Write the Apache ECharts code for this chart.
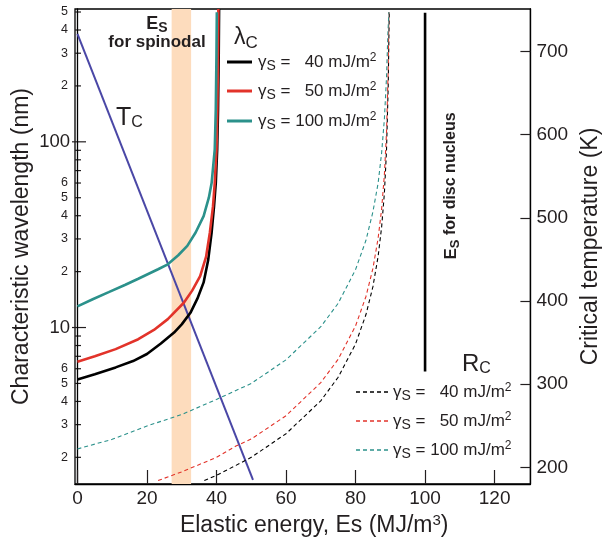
<!DOCTYPE html>
<html><head><meta charset="utf-8">
<script src="https://cdn.jsdelivr.net/npm/echarts@6/dist/echarts.min.js"></script>
<style>html,body{margin:0;padding:0;background:#fff}#c{width:610px;height:542px}</style>
</head><body><div id="c"></div>
<script>
// ---- data ----
const xTicks = [0, 20, 40, 60, 80, 100, 120];
const tempTicks = [200, 300, 400, 500, 600, 700];
const wlMajorTicks = [10, 100];
const wlMinorTicks = [2, 3, 4, 5, 6, 7, 8, 9, 20, 30, 40, 50, 60, 70, 80, 90, 200, 300, 400, 500];
const wlLabels = [2, 3, 4, 5, 6, 10, 20, 30, 40, 50, 60, 100, 200, 300, 400, 500];

const lambda40 = [[0,5.25],[5,5.6],[11,6.1],[16,6.6],[20,7.2],[24,8.2],[27.8,9.4],[30,10.4],[32.5,12.0],[34.5,14.3],[36.3,17.5],[37.6,23],[38.6,32.5],[39.3,45],[39.8,60],[40.2,91],[40.45,150],[40.65,300],[40.75,519]];
const lambda50 = [[0,6.55],[5,7.0],[11,7.65],[17.5,8.65],[22,9.7],[26,11.1],[30.6,13.6],[33,15.8],[35.3,18.9],[37,24],[38.1,32.5],[39,45],[39.5,60],[40,91],[40.25,150],[40.45,300],[40.55,519]];
const lambda100 = [[0,13.0],[4.4,14.2],[9,15.5],[13.8,17.0],[17.5,18.3],[23.2,20.6],[26,21.9],[29,24.5],[31.6,27.5],[34,32.5],[36.3,39.8],[37.8,50],[38.6,60],[39.5,91],[39.8,150],[40,300],[40.1,498]];

const rc40 = [[36.5,1.5],[40,1.6],[45.6,1.81],[50,2.0],[60,2.68],[70,4.03],[75,5.4],[80,8.15],[83,11.75],[85,16.6],[86.5,24.2],[87.5,34.7],[88.3,53],[88.9,89],[89.4,200],[89.7,500]];
const rc50 = [[23.2,1.5],[30,1.67],[40,2.0],[45.6,2.3],[50,2.51],[60,3.35],[70,5.05],[75,6.75],[80,10.2],[83,14.7],[85,20.8],[86.5,30.3],[87.5,43.4],[88.3,66.6],[88.9,111],[89.4,250],[89.6,500]];
const rc100 = [[0,2.22],[10,2.5],[20,2.95],[30,3.4],[40,4.1],[50,5.0],[60,6.7],[70,10.1],[75,13.5],[80,20.5],[83,29.5],[85,42],[86.5,60],[87.5,87],[88.3,133],[88.9,220],[89.3,380],[89.6,500]];

const tcLine = [[0,721],[50.5,185]];
const spinodalBand = [27.1, 32.7];
const discLine = [[100,5.8],[100,496]];

// ---- styles ----
const FONT = '"Liberation Sans", Arial, Helvetica, sans-serif';
const INK = '#231f20';
const BLACK = '#000000', RED = '#e2332a', TEAL = '#2b918b', BLUE = '#4a47a6', BAND = '#fddcbd';

const chart = echarts.init(document.getElementById('c'), null, {renderer: 'canvas'});

function solid(data, color) {
  return {type: 'line', data, yAxisIndex: 0, symbol: 'none', z: 4,
    lineStyle: {color, width: 2.6}, silent: true};
}
function dashed(data, color) {
  return {type: 'line', data, yAxisIndex: 0, symbol: 'none', z: 4,
    lineStyle: {color, width: 1.1, type: [4, 3]}, silent: true};
}

const option = {
  animation: false,
  backgroundColor: '#fff',
  grid: {left: 75, right: 68, top: 9, bottom: 57, show: true, borderColor: '#000', borderWidth: 1.3, backgroundColor: 'transparent'},
  xAxis: {
    type: 'value', min: -0.7, max: 130.3,
    axisLine: {show: true, lineStyle: {color: '#000', width: 1.3}},
    axisTick: {show: true, inside: true, length: 14, customValues: xTicks, lineStyle: {color: INK, width: 1.2}},
    axisLabel: {customValues: xTicks, fontSize: 19, color: INK, fontFamily: FONT, margin: 5},
    splitLine: {show: false},
    name: 'Elastic energy, Es (MJ/m{sup|3})',
    nameLocation: 'middle', nameGap: 29,
    nameTextStyle: {fontSize: 23, color: INK, fontFamily: FONT, padding: [0, 0, 0, 23],
      rich: {sup: {fontSize: 15, color: INK, fontFamily: FONT, padding: [0, 0, 10, 0]}}}
  },
  yAxis: [
    {
      type: 'log', logBase: 10, min: 1.437, max: 519,
      axisLine: {show: true, lineStyle: {color: '#000', width: 1.3}},
      axisTick: {show: false}, axisLabel: {show: false}, splitLine: {show: false}, minorTick: {show: false},
      name: 'Characteristic wavelength (nm)', nameLocation: 'middle', nameGap: 42,
      nameTextStyle: {fontSize: 23, color: INK, fontFamily: FONT}
    },
    {
      type: 'value', position: 'right', min: 180, max: 751,
      axisLine: {show: true, lineStyle: {color: '#000', width: 1.3}},
      axisTick: {show: true, inside: true, length: 10, customValues: tempTicks, lineStyle: {color: INK, width: 1.2}},
      axisLabel: {customValues: tempTicks, fontSize: 19, color: INK, fontFamily: FONT, margin: 6},
      splitLine: {show: false},
      name: 'Critical temperature (K)', nameLocation: 'middle', nameGap: 46, nameRotate: 90,
      nameTextStyle: {fontSize: 23, color: INK, fontFamily: FONT}
    }
  ],
  series: [
    {type: 'line', data: [], yAxisIndex: 0, z: 1, silent: true,
      markArea: {silent: true, itemStyle: {color: BAND, opacity: 1},
        data: [[{xAxis: spinodalBand[0]}, {xAxis: spinodalBand[1]}]]}},
    {type: 'line', data: tcLine, yAxisIndex: 1, symbol: 'none', z: 3, silent: true, lineStyle: {color: BLUE, width: 2}},
    solid(lambda40, BLACK), solid(lambda50, RED), solid(lambda100, TEAL),
    dashed(rc40, BLACK), dashed(rc50, RED), dashed(rc100, TEAL),
    {type: 'line', data: discLine, yAxisIndex: 0, symbol: 'none', z: 4, silent: true, lineStyle: {color: '#000', width: 2.6}}
  ]
};
chart.setOption(option);

// ---- log-axis ticks & labels via the axis scale ----
const g = [];
const axisX = chart.convertToPixel({xAxisIndex: 0}, -0.7);
function yPix(v) { return chart.convertToPixel({yAxisIndex: 0}, v); }
wlMajorTicks.forEach(v => {
  const y = yPix(v);
  g.push({type: 'line', silent: true, shape: {x1: axisX - 3, y1: y, x2: axisX + 11, y2: y}, style: {stroke: INK, lineWidth: 1.2}});
});
wlMinorTicks.forEach(v => {
  const y = yPix(v);
  g.push({type: 'line', silent: true, shape: {x1: axisX, y1: y, x2: axisX + 6, y2: y}, style: {stroke: INK, lineWidth: 1.2}});
});
wlLabels.forEach(v => {
  const big = (v === 10 || v === 100);
  const label = big ? String(v) : String(v).charAt(0);
  g.push({type: 'text', silent: true, x: axisX - (big ? 5 : 7), y: yPix(v),
    style: {text: label, fontSize: big ? 18.5 : 12.5, fontFamily: FONT, fill: INK, align: 'right', verticalAlign: 'middle'}});
});

// ---- annotations ----
function rt(x, y, text, rich, extra) {
  return Object.assign({type: 'text', silent: true, x, y, z: 10,
    style: {text, rich, fontFamily: FONT, fill: INK, align: 'left', verticalAlign: 'middle'}}, extra || {});
}
const sub = (fs, pad) => ({fontSize: fs, fontFamily: FONT, fill: INK, lineHeight: fs, padding: [pad, 0, 0, 0]});
const sup = (fs, pad) => ({fontSize: fs, fontFamily: FONT, fill: INK, lineHeight: fs, padding: [0, 0, pad, 0]});
const main = (fs, w) => ({fontSize: fs, fontFamily: FONT, fill: INK, lineHeight: fs + 2, fontWeight: w || 'normal'});

// E_S for spinodal
g.push({type: 'text', silent: true, x: 157, y: 24, z: 10,
  style: {text: '{a|E}{b|S}', align: 'center', verticalAlign: 'middle', fontFamily: FONT,
    rich: {a: main(18, 'bold'), b: Object.assign(sub(14, 9), {fontWeight: 'bold'})}}});
g.push({type: 'text', silent: true, x: 157, y: 42, z: 10, style: {text: 'for spinodal', fontSize: 17, fontWeight: 'bold', fontFamily: FONT, fill: INK, align: 'center', verticalAlign: 'middle'}});

// T_c
g.push(rt(116, 118, '{a|T}{b|C}', {a: main(25), b: sub(16, 10)}));
// lambda_c
g.push(rt(234, 38, '{a|λ}{b|C}', {a: main(23), b: sub(17, 10)}));
// R_c
g.push(rt(462, 364, '{a|R}{b|C}', {a: main(24), b: sub(16, 10)}));

// E_S for disc nucleus (rotated)
g.push({type: 'text', silent: true, x: 451, y: 186, z: 10, rotation: Math.PI / 2,
  style: {text: '{a|E}{b|S}{c| for disc nucleus}', align: 'center', verticalAlign: 'middle', fontFamily: FONT,
    rich: {a: main(17, 'bold'), b: Object.assign(sub(13, 8), {fontWeight: 'bold'}), c: main(16, 'bold')}}});

// legends
const legRich = {g: main(17), s: sub(14, 9), t: main(17), p: sup(12, 8)};
const topRows = [[62, BLACK, '  40'], [91, RED, '  50'], [121, TEAL, '100']];
topRows.forEach(([y, c, n]) => {
  g.push({type: 'line', silent: true, z: 10, shape: {x1: 227, y1: y, x2: 252, y2: y}, style: {stroke: c, lineWidth: 3}});
  g.push(rt(258, y, '{g|γ}{s|S}{t| = ' + n + ' mJ/m}{p|2}', legRich));
});
const botRows = [[392, BLACK, '  40'], [421, RED, '  50'], [450, TEAL, '100']];
botRows.forEach(([y, c, n]) => {
  g.push({type: 'line', silent: true, z: 10, shape: {x1: 356, y1: y, x2: 388, y2: y}, style: {stroke: c, lineWidth: 1.3, lineDash: [4, 3]}});
  g.push(rt(393, y, '{g|γ}{s|S}{t| = ' + n + ' mJ/m}{p|2}', legRich));
});

chart.setOption({graphic: g});
</script>
</body></html>
